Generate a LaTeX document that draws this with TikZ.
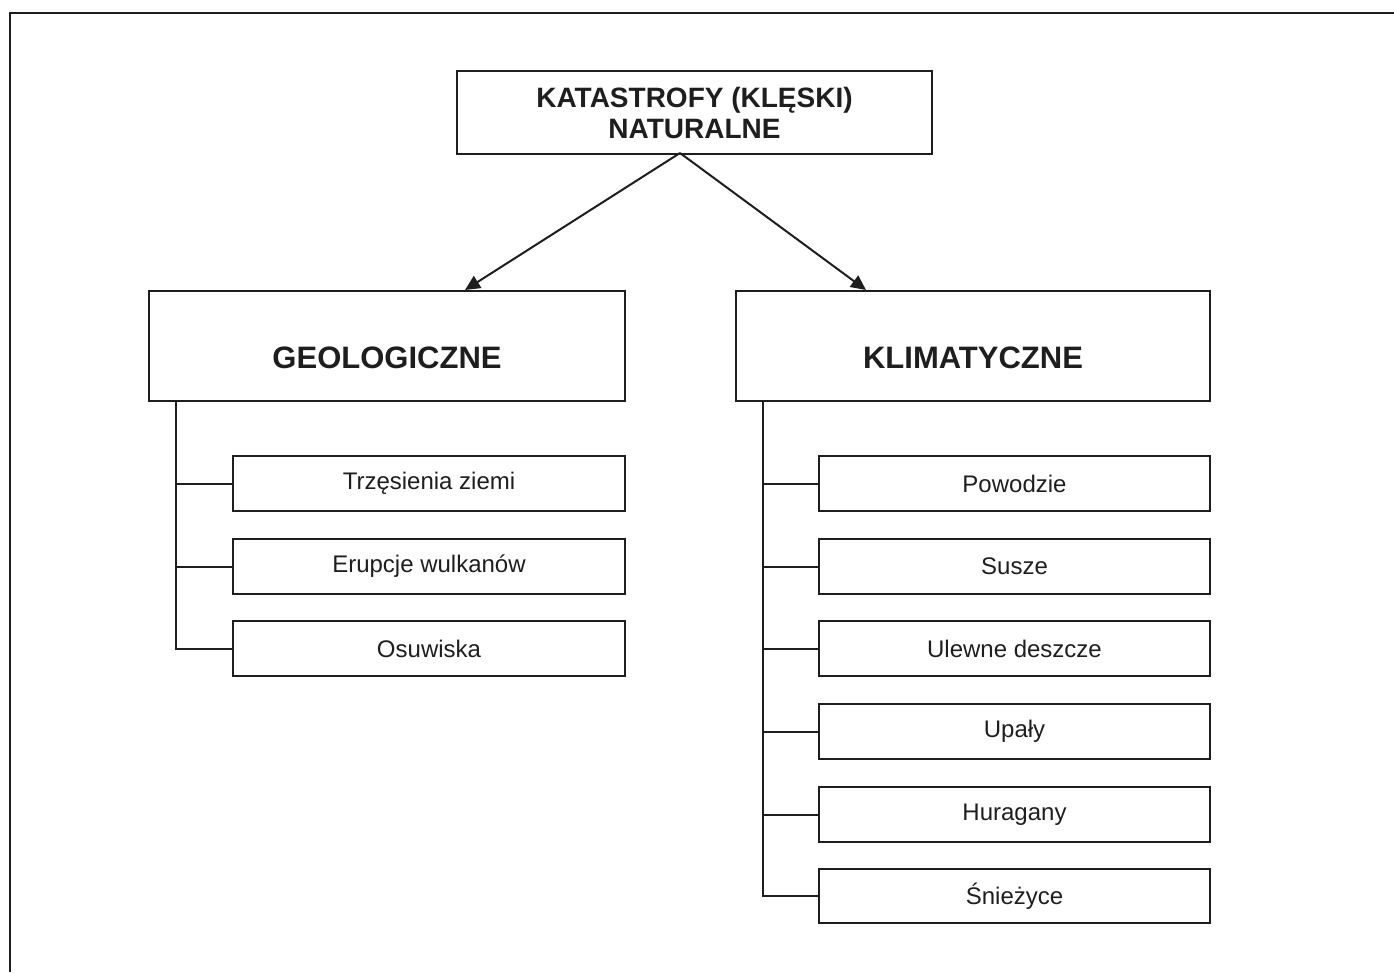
\documentclass[tikz,border=0pt]{standalone}
\usepackage{fontspec}
\setmainfont{Liberation Sans}
\usetikzlibrary{arrows.meta}
\definecolor{ink}{HTML}{1E1E1E}
\begin{document}
\begin{tikzpicture}[x=1pt,y=-1pt,
  line/.style={draw=ink,line width=2pt},
  box/.style={line,rectangle,minimum width=#1,anchor=north west,inner sep=0pt,text=ink},
  topbox/.style={box=475pt,minimum height=83pt,font=\fontsize{28}{31}\selectfont\bfseries,align=center},
  groupbox/.style={box=476pt,minimum height=110pt,text height=44pt,text depth=0pt,font=\fontsize{31}{36}\selectfont\bfseries},
  itembox/.style={box=392pt,minimum height=55pt,font=\fontsize{24}{28}\selectfont},
  arr/.style={line,-{Triangle[length=15pt,width=14pt]}}]
\useasboundingbox (0,0) rectangle (1394,972);
% frame edges
\draw[line,line width=2.4pt] (10,972) -- (10,13) -- (1394,13);

% root
\node[topbox] (root) at (456,70) {KATASTROFY (KLĘSKI)\\NATURALNE};
\coordinate (rs) at (680,153);

% categories
\node[groupbox] (geo) at (148,290) {GEOLOGICZNE};
\node[groupbox,minimum width=474pt] (kli) at (735,290) {KLIMATYCZNE};
\coordinate (geoIn) at (465,290);
\coordinate (kliIn) at (866,290);
\draw[arr] (rs) -- (geoIn);
\draw[arr] (rs) -- (kliIn);

% geological items
\node[itembox] (g1) at (232,455) {Trzęsienia ziemi};
\node[itembox] (g2) at (232,538) {Erupcje wulkanów};
\node[itembox] (g3) at (232,620) {Osuwiska};
\coordinate (gt) at (176,400);
\draw[line] (gt) |- (g3.west);
\foreach \n in {g1,g2} \draw[line] (gt |- \n.west) -- (\n.west);

% climatic items
\node[itembox,minimum width=391pt] (k1) at (818,455) {Powodzie};
\node[itembox,minimum width=391pt] (k2) at (818,538) {Susze};
\node[itembox,minimum width=391pt] (k3) at (818,620) {Ulewne deszcze};
\node[itembox,minimum width=391pt] (k4) at (818,703) {Upały};
\node[itembox,minimum width=391pt] (k5) at (818,786) {Huragany};
\node[itembox,minimum width=391pt,minimum height=54pt] (k6) at (818,868) {Śnieżyce};
\coordinate (kt) at (763,400);
\draw[line] (kt) |- (k6.west);
\foreach \n in {k1,k2,k3,k4,k5} \draw[line] (kt |- \n.west) -- (\n.west);
\end{tikzpicture}
\end{document}
